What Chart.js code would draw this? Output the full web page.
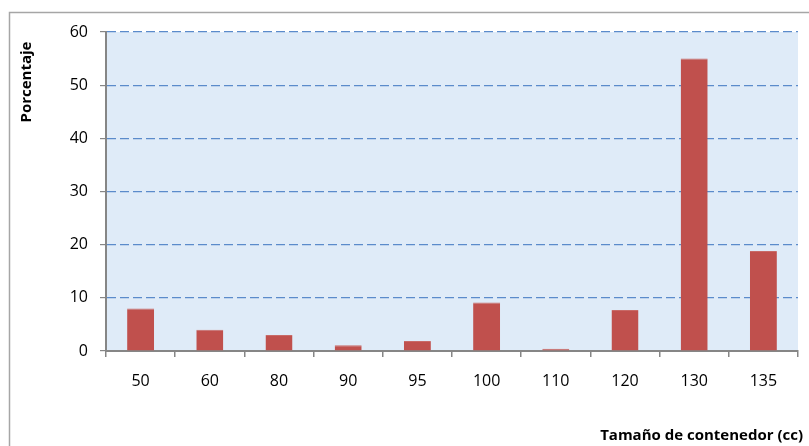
<!DOCTYPE html>
<html>
<head>
<meta charset="utf-8">
<script src="https://cdn.jsdelivr.net/npm/chart.js@4"></script>
<style>
  html, body { margin: 0; padding: 0; background: #ffffff; }
  #wrap { width: 809px; height: 446px; position: relative; }
</style>
</head>
<body>
<div id="wrap"><canvas id="c" width="809" height="446"></canvas></div>
<script>
// Container sizes (cc) and share of each, in percent
const categories = ['50', '60', '80', '90', '95', '100', '110', '120', '130', '135'];
const porcentaje = [8, 4, 3, 1.1, 1.9, 9.1, 0.4, 7.7, 55, 18.8];
const yTicks = [0, 10, 20, 30, 40, 50, 60];

const FONT = "'Open Sans', 'Liberation Sans', sans-serif";

// Frame, plot background and axis titles
const decor = {
  id: 'decor',
  beforeDraw(chart) {
    const { ctx, chartArea: a } = chart;
    ctx.save();
    ctx.strokeStyle = '#a6a6a6';
    ctx.lineWidth = 1.5;
    ctx.strokeRect(9.5, 12.5, 900, 500);
    ctx.fillStyle = '#dfebf8';
    ctx.fillRect(a.left, a.top, a.right - a.left, a.bottom - a.top);
    ctx.restore();
  },
  afterDraw(chart) {
    const { ctx } = chart;
    ctx.save();
    ctx.fillStyle = '#000000';
    ctx.font = "bold 15px " + FONT;
    ctx.textAlign = 'right';
    ctx.textBaseline = 'alphabetic';
    ctx.fillText('Tamaño de contenedor (cc)', 803, 440);
    ctx.translate(27, 82);
    ctx.rotate(-Math.PI / 2);
    ctx.textAlign = 'center';
    ctx.textBaseline = 'middle';
    ctx.fillText('Porcentaje', 0, 0);
    ctx.restore();
  }
};

new Chart(document.getElementById('c'), {
  type: 'bar',
  data: {
    labels: categories,
    datasets: [{
      data: porcentaje,
      backgroundColor: '#c0504d',
      borderColor: '#c86a67',
      borderWidth: { top: 1, left: 0, right: 0, bottom: 0 },
      borderSkipped: 'bottom',
      categoryPercentage: 1,
      barPercentage: 0.39
    }]
  },
  options: {
    responsive: false,
    animation: false,
    devicePixelRatio: 1,
    layout: { padding: { left: 0, right: 11, top: 32, bottom: 0 } },
    plugins: { legend: { display: false }, tooltip: { enabled: false } },
    scales: {
      x: {
        afterFit(s) { s.height = 95; },
        grid: {
          display: true,
          drawOnChartArea: false,
          offset: true,
          tickLength: 6,
          color: '#868686',
          lineWidth: 1.5
        },
        border: { display: true, color: '#868686', width: 2 },
        ticks: { color: '#000000', font: { family: FONT, size: 16 }, padding: 15 }
      },
      y: {
        min: 0,
        max: 60,
        afterFit(s) { s.width = 106; },
        afterBuildTicks(s) { s.ticks = yTicks.map(v => ({ value: v })); },
        grid: {
          display: true,
          color: (c) => c.tick && c.tick.value === 0 ? 'rgba(0,0,0,0)' : '#5b8bcb',
          lineWidth: 1.2,
          tickColor: '#868686',
          tickBorderDash: [],
          tickLength: 6
        },
        border: { display: true, color: '#868686', width: 2, dash: [9, 4] },
        ticks: { color: '#000000', font: { family: FONT, size: 16 }, padding: 12 }
      }
    }
  },
  plugins: [decor]
});
</script>
</body>
</html>
